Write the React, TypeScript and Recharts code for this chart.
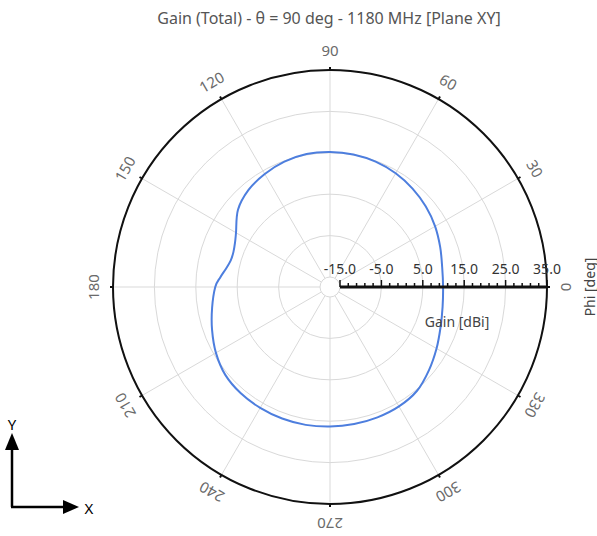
import React from 'react';
import { RadarChart, Radar, PolarGrid, PolarAngleAxis, PolarRadiusAxis } from 'recharts';

const phiDeg = [0, 10, 20, 30, 40, 50, 60, 70, 80, 90, 100, 110, 120, 130, 140, 150, 155, 160, 165, 170, 175, 180,
    190, 200, 210, 220, 230, 240, 250, 260, 270, 280, 290, 300, 310, 320, 330, 340, 350];
const gainDbi = [9.9, 10.1, 10.9, 11.9, 12.8, 13.6, 14.3, 14.8, 15.1, 15.2, 15.2, 14.8, 14.1, 13.2, 11.6, 8.8, 7.9, 7.4, 7.4, 8.1, 9.2, 10.3,
    11.5, 12.9, 14.4, 15.6, 16.1, 16.3, 16.4, 16.4, 16.3, 16.2, 16.1, 15.9, 15.3, 13.8, 12.3, 11.0, 10.2];

const angleTicks = [0, 30, 60, 90, 120, 150, 180, 210, 240, 270, 300, 330];
const gainTicks = [-15, -5, 5, 15, 25, 35];
const gainMinorTicks = [-15, -13, -11, -9, -7, -5, -3, -1, 1, 3, 5, 7, 9, 11, 13, 15, 17, 19, 21, 23, 25, 27, 29, 31, 33, 35];

const TITLE = 'Gain (Total) - θ = 90 deg - 1180 MHz [Plane XY]';

const W = 597;
const H = 536;
const CX = 330;
const CY = 287;
const FONT = '"Noto Sans", "Open Sans", sans-serif';
const CURVE = '#4d7ede';

const data = phiDeg.map((phi, i) => ({ phi, gain: gainDbi[i] }));

// angle labels sit outside the ring, rotated so their top faces outwards
const AngleTick = (props: any) => {
    const { x, y, payload } = props;
    const cx = props.cx ?? CX;
    const cy = props.cy ?? CY;
    const dx = x - cx;
    const dy = y - cy;
    const d = Math.hypot(dx, dy) || 1;
    const k = (d + 17) / d;
    const tx = cx + dx * k;
    const ty = cy + dy * k;
    const rot = 90 - payload.value;
    return (
        <text x={tx} y={ty} transform={`rotate(${rot}, ${tx}, ${ty})`} textAnchor="middle" dominantBaseline="central"
            fontSize={15} fontFamily={FONT} fill="#6a6a6a">
            {payload.value}
        </text>
    );
};

const GainTick = (props: any) => {
    const { x, y, payload } = props;
    const major = gainTicks.includes(payload.value);
    return (
        <g>
            <line x1={x} y1={y} x2={x} y2={y - (major ? 7 : 4)} stroke="#111" strokeWidth={1.5} />
            {major && (
                <text x={x} y={y - 13} textAnchor="middle" fontSize={14} fontFamily={FONT} fill="#333">
                    {payload.value.toFixed(1)}
                </text>
            )}
        </g>
    );
};

// closed catmull-rom through the radar points so the pattern reads as a smooth curve
const SmoothPattern = (props: any) => {
    const pts: { x: number; y: number }[] = props.points || [];
    if (pts.length < 3) return null;
    const n = pts.length;
    let d = `M${pts[0].x},${pts[0].y}`;
    for (let i = 0; i < n; i++) {
        const p0 = pts[(i - 1 + n) % n];
        const p1 = pts[i];
        const p2 = pts[(i + 1) % n];
        const p3 = pts[(i + 2) % n];
        const c1x = p1.x + (p2.x - p0.x) / 6;
        const c1y = p1.y + (p2.y - p0.y) / 6;
        const c2x = p2.x - (p3.x - p1.x) / 6;
        const c2y = p2.y - (p3.y - p1.y) / 6;
        d += ` C${c1x},${c1y} ${c2x},${c2y} ${p2.x},${p2.y}`;
    }
    return <path d={d + 'Z'} fill="none" stroke={CURVE} strokeWidth={2} />;
};

export default function App() {
    return (
        <div style={{ position: 'absolute', left: 0, top: 0, width: W, height: H, background: '#fff' }}>
            <RadarChart width={W} height={H} data={data} cx={CX} cy={CY} innerRadius={10} outerRadius={217}
                startAngle={0} endAngle={360} margin={{ top: 0, right: 0, bottom: 0, left: 0 }}>
                <PolarGrid gridType="circle" stroke="#d9d9d9" strokeWidth={1} radiusAxisId="grid" />
                <PolarAngleAxis dataKey="phi" type="number" domain={[0, 360]} ticks={angleTicks}
                    axisLine={{ stroke: '#111', strokeWidth: 2 }} axisLineType="circle"
                    tickLine={{ stroke: '#111', strokeWidth: 2 }} tickSize={3} tick={<AngleTick />} />
                <PolarRadiusAxis radiusAxisId="grid" angle={0} type="number" domain={[-15, 35]} ticks={gainTicks}
                    tick={false} axisLine={false} />
                <PolarRadiusAxis radiusAxisId="scale" angle={0} type="number" domain={[-15, 35]} ticks={gainMinorTicks}
                    axisLine={{ stroke: '#111', strokeWidth: 3 }} tick={<GainTick />} />
                <Radar radiusAxisId="grid" dataKey="gain" stroke={CURVE} fill="none" isAnimationActive={false}
                    shape={<SmoothPattern />} />
                {/* invisible twin so the scale axis has a series bound to it */}
                <Radar radiusAxisId="scale" dataKey="gain" stroke="none" fill="none" isAnimationActive={false} />
            </RadarChart>
            <svg width={W} height={H} style={{ position: 'absolute', left: 0, top: 0, pointerEvents: 'none' }}>
                <text x={329} y={18} textAnchor="middle" dominantBaseline="central" fontSize={16} fontFamily={FONT} fill="#555">
                    {TITLE}
                </text>
                <text x={457} y={321} textAnchor="middle" dominantBaseline="central" fontSize={14} fontFamily={FONT} fill="#444">
                    Gain [dBi]
                </text>
                <text x={589} y={287} transform="rotate(-90, 589, 287)" textAnchor="middle" dominantBaseline="central"
                    fontSize={14} fontFamily={FONT} fill="#444">
                    Phi [deg]
                </text>
                <line x1={12} y1={507} x2={12} y2={446} stroke="#000" strokeWidth={2.5} />
                <polygon points="12,433 5,450 19,450" fill="#000" />
                <line x1={11} y1={507} x2={66} y2={507} stroke="#000" strokeWidth={2.5} />
                <polygon points="79,507 63,500 63,514" fill="#000" />
                <text x={12} y={424} textAnchor="middle" dominantBaseline="central" fontSize={15} fontFamily={FONT} fill="#000">Y</text>
                <text x={89} y={508} textAnchor="middle" dominantBaseline="central" fontSize={15} fontFamily={FONT} fill="#000">X</text>
            </svg>
        </div>
    );
}
